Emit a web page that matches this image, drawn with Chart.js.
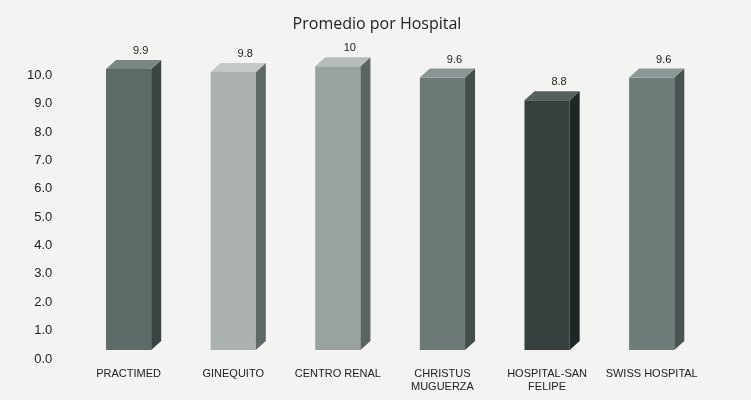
<!DOCTYPE html>
<html lang="es">
<head>
  <meta charset="UTF-8" />
  <title>Promedio por Hospital</title>
  <script src="https://cdn.jsdelivr.net/npm/chart.js"></script>
  <style>
    html, body { margin: 0; padding: 0; background: #f3f4f2; }
    #wrap { width: 751px; height: 400px; }
  </style>
</head>
<body>
  <div id="wrap"><canvas id="chart" width="751" height="400"></canvas></div>

  <script>
    const hospitals = ['PRACTIMED', 'GINEQUITO', 'CENTRO RENAL', ['CHRISTUS', 'MUGUERZA'], ['HOSPITAL-SAN', 'FELIPE'], 'SWISS HOSPITAL'];
    const averages = [9.9, 9.8, 10, 9.6, 8.8, 9.6];
    const valueLabels = ['9.9', '9.8', '10', '9.6', '8.8', '9.6'];
    const frontColors = ['#5d6b69', '#abb2b0', '#99a29f', '#6c7977', '#36413f', '#6e7c7a'];
    const sideColors = ['#3a4543', '#5f6866', '#5b6462', '#434e4c', '#1f2726', '#485452'];
    const topColors = ['#7a8684', '#c4c9c7', '#b5bcb9', '#8a9593', '#56605e', '#8c9896'];

    const depthX = 10, depthY = 9;

    // fake 3D: side and top faces plus value labels, from the bar elements
    const bar3d = {
      id: 'bar3d',
      afterDatasetsDraw(chart) {
        const ctx = chart.ctx;
        const meta = chart.getDatasetMeta(0);
        meta.data.forEach((bar, i) => {
          const left = bar.x - bar.width / 2;
          const right = bar.x + bar.width / 2;
          const top = bar.y;
          const base = bar.base;
          ctx.save();
          ctx.fillStyle = sideColors[i];
          ctx.beginPath();
          ctx.moveTo(right, top);
          ctx.lineTo(right + depthX, top - depthY);
          ctx.lineTo(right + depthX, base - depthY);
          ctx.lineTo(right, base);
          ctx.closePath();
          ctx.fill();
          ctx.fillStyle = topColors[i];
          ctx.beginPath();
          ctx.moveTo(left, top);
          ctx.lineTo(left + depthX, top - depthY);
          ctx.lineTo(right + depthX, top - depthY);
          ctx.lineTo(right, top);
          ctx.closePath();
          ctx.fill();
          ctx.fillStyle = '#222';
          ctx.font = '11px "Liberation Sans Narrow", "Liberation Sans", Arial';
          ctx.textAlign = 'center';
          ctx.textBaseline = 'middle';
          ctx.fillText(valueLabels[i], bar.x + 12, top - depthY - 9);
          ctx.restore();
        });
      }
    };

    new Chart(document.getElementById('chart'), {
      type: 'bar',
      data: {
        labels: hospitals,
        datasets: [{
          label: 'Promedio',
          data: averages,
          backgroundColor: frontColors,
          borderWidth: 0,
          categoryPercentage: 0.8,
          barPercentage: 0.54
        }]
      },
      options: {
        responsive: false,
        animation: false,
        layout: { padding: { left: 3, right: 0, top: 0, bottom: 6 } },
        plugins: {
          legend: { display: false },
          tooltip: { enabled: false },
          title: {
            display: true,
            text: 'Promedio por Hospital',
            color: '#222',
            font: { family: 'Open Sans', size: 16, weight: 'normal' },
            padding: { top: 15, bottom: 15 }
          }
        },
        scales: {
          y: {
            min: 0,
            max: 10.6,
            afterBuildTicks: axis => {
              axis.ticks = axis.ticks.filter(t => Number.isInteger(t.value));
            },
            ticks: {
              stepSize: 1,
              padding: 24,
              labelOffset: 9,
              color: '#222',
              font: { family: '"Liberation Sans Narrow", "Liberation Sans", Arial', size: 13 },
              callback: v => v.toFixed(1)
            },
            grid: { display: false, drawTicks: false },
            border: { display: false }
          },
          // empty right axis, only keeps space so the title stays centred on the page
          yRight: {
            position: 'right',
            ticks: { display: false },
            grid: { display: false, drawTicks: false },
            border: { display: false },
            afterFit: axis => { axis.width = 47; }
          },
          x: {
            ticks: {
              color: '#222',
              padding: 17,
              maxRotation: 0,
              autoSkip: false,
              font: { family: '"Liberation Sans Narrow", "Liberation Sans", Arial', size: 11 }
            },
            grid: { display: false, drawTicks: false },
            border: { display: false },
            afterFit: axis => { axis.height = 44; }
          }
        }
      },
      plugins: [bar3d]
    });
  </script>
</body>
</html>
